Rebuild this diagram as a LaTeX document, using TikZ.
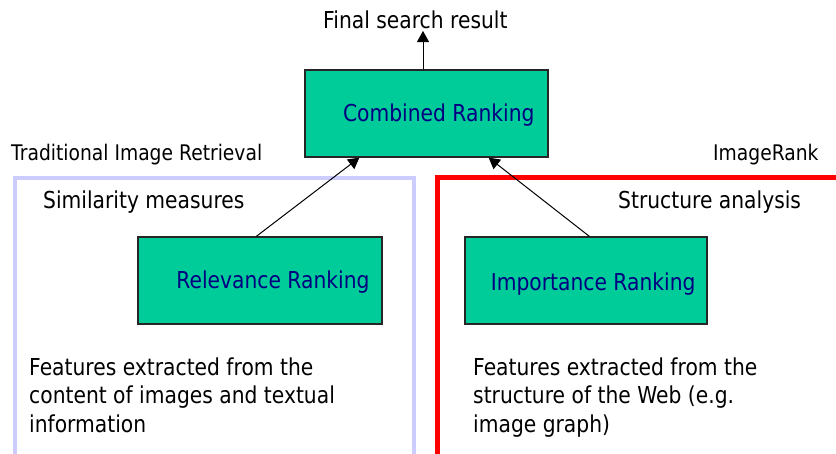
\documentclass[tikz,border=0pt]{standalone}
\usepackage{fontspec}
\setmainfont{DejaVu Sans}[FakeStretch=0.87]
\usetikzlibrary{arrows.meta}
\definecolor{boxgreen}{HTML}{00CC99}
\definecolor{navytext}{HTML}{000080}
\definecolor{lavender}{HTML}{CCCCFF}
\definecolor{framered}{HTML}{FF0000}
\begin{document}
\begin{tikzpicture}[x=1pt,y=-1pt,
  txt/.style={inner sep=0pt,anchor=base west,font=\fontsize{23.3}{28.5}\selectfont},
  smalltxt/.style={inner sep=0pt,anchor=base west,font=\fontsize{21.5}{26}\selectfont},
  rankbox/.style={draw=black!85,line width=1.3pt,fill=boxgreen,inner sep=0pt,minimum width=243pt,minimum height=87pt},
  boxtxt/.style={inner sep=0pt,anchor=base east,text=navytext,font=\fontsize{23.3}{28.5}\selectfont},
  arr/.style={line width=1pt,-{Triangle[length=11pt,width=12pt]}}
]
\useasboundingbox (0,0) rectangle (836,453);
% frames
\draw[lavender,line width=4pt] (14.5,455) -- (14.5,178) -- (414,178) -- (414,455);
\draw[framered,line width=5pt] (437.5,455) -- (437.5,177.5) -- (840,177.5);
% boxes
\node[rankbox] (comb) at (426.5,113.5) {};
\node[rankbox,minimum width=244pt] (rel) at (260,280.5) {};
\node[rankbox,minimum width=242pt] (imp) at (586,280.5) {};
\node[boxtxt] (combt) at ([xshift=-14pt,yshift=-7.5pt]comb.east) {Combined Ranking};
\node[boxtxt] (relt) at ([xshift=-13pt,yshift=-7.5pt]rel.east) {Relevance Ranking};
\node[boxtxt] (impt) at ([xshift=-12pt,yshift=-9.5pt]imp.east) {Importance Ranking};
% labels
\node[txt] (final) at (323,28) {Final search result};
\node[smalltxt] (trad) at (11,160) {Traditional Image Retrieval};
\node[smalltxt] (irank) at (713,160) {ImageRank};
\node[txt] (sim) at (43,208) {Similarity measures};
\node[txt] (struct) at (618,208) {Structure analysis};
\node[txt] (lf1) at (29,375) {Features extracted from the};
\node[txt] (lf2) at (29,403.5) {content of images and textual};
\node[txt] (lf3) at (29,432) {information};
\node[txt] (rf1) at (473,375) {Features extracted from the};
\node[txt] (rf2) at (473,403.5) {structure of the Web (e.g.};
\node[txt] (rf3) at (473,432) {image graph)};
% connectors
\coordinate (res) at (423,31);
\draw[arr] ([xshift=-3.5pt]comb.north) -- (res);
\draw[arr] ([xshift=119pt]rel.north west) -- ([xshift=55pt]comb.south west);
\draw[arr] ([xshift=125pt]imp.north west) -- ([xshift=-60pt]comb.south east);
\end{tikzpicture}
\end{document}
